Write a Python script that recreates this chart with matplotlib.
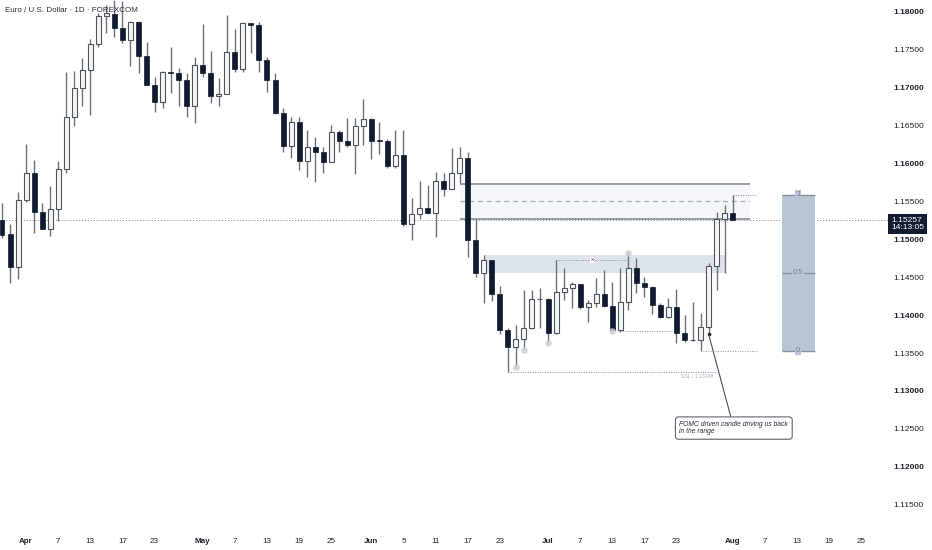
import numpy as np
import matplotlib
matplotlib.use("Agg")
import matplotlib.pyplot as plt
from matplotlib.patches import Rectangle

plt.rcParams['font.family'] = ['Liberation Sans', 'DejaVu Sans']

# daily candles, EUR/USD
opens = [1.1526, 1.1507, 1.1464, 1.1552, 1.1588, 1.1536, 1.1514, 1.1540, 1.1593, 1.1661,
         1.1700, 1.1723, 1.1758, 1.1795, 1.1797, 1.1779, 1.1763, 1.1787, 1.1742, 1.1704,
         1.1681, 1.1721, 1.1719, 1.1710, 1.1676, 1.1730, 1.1720, 1.1689, 1.1692, 1.1747,
         1.1725, 1.1785, 1.1783, 1.1737, 1.1710, 1.1667, 1.1623, 1.1655, 1.1603, 1.1622,
         1.1615, 1.1602, 1.1642, 1.1630, 1.1625, 1.1650, 1.1659, 1.1631, 1.1630, 1.1597,
         1.1611, 1.1520, 1.1534, 1.1541, 1.1535, 1.1577, 1.1566, 1.1588, 1.1607, 1.1499,
         1.1456, 1.1473, 1.1428, 1.1380, 1.1358, 1.1369, 1.1383, 1.1421, 1.1421, 1.1377,
         1.1431, 1.1436, 1.1441, 1.1411, 1.1416, 1.1428, 1.1412, 1.1380, 1.1417, 1.1462,
         1.1442, 1.1437, 1.1413, 1.1398, 1.1411, 1.1377, 1.1367, 1.1367, 1.1384, 1.1465,
         1.1527, 1.1535]
highs = [1.1548, 1.1520, 1.1563, 1.1626, 1.1605, 1.1548, 1.1570, 1.1603, 1.1721, 1.1722,
         1.1739, 1.1764, 1.1799, 1.1809, 1.1816, 1.1814, 1.1788, 1.1788, 1.1760, 1.1714,
         1.1722, 1.1754, 1.1726, 1.1719, 1.1741, 1.1784, 1.1749, 1.1713, 1.1796, 1.1778,
         1.1787, 1.1786, 1.1787, 1.1741, 1.1720, 1.1673, 1.1661, 1.1661, 1.1644, 1.1635,
         1.1622, 1.1651, 1.1644, 1.1660, 1.1660, 1.1685, 1.1660, 1.1655, 1.1633, 1.1644,
         1.1644, 1.1555, 1.1577, 1.1572, 1.1589, 1.1588, 1.1621, 1.1622, 1.1615, 1.1527,
         1.1480, 1.1473, 1.1438, 1.1383, 1.1387, 1.1433, 1.1433, 1.1436, 1.1423, 1.1473,
         1.1462, 1.1444, 1.1441, 1.1420, 1.1449, 1.1460, 1.1444, 1.1462, 1.1482, 1.1475,
         1.1450, 1.1438, 1.1416, 1.1423, 1.1435, 1.1400, 1.1417, 1.1403, 1.1469, 1.1536,
         1.1545, 1.1559]
lows = [1.1502, 1.1443, 1.1448, 1.1549, 1.1508, 1.1514, 1.1504, 1.1524, 1.1588, 1.1650,
        1.1676, 1.1664, 1.1754, 1.1772, 1.1767, 1.1759, 1.1729, 1.1720, 1.1704, 1.1668,
        1.1673, 1.1693, 1.1676, 1.1661, 1.1654, 1.1714, 1.1680, 1.1676, 1.1692, 1.1721,
        1.1721, 1.1746, 1.1721, 1.1694, 1.1665, 1.1615, 1.1607, 1.1592, 1.1582, 1.1576,
        1.1588, 1.1602, 1.1615, 1.1622, 1.1586, 1.1625, 1.1606, 1.1613, 1.1594, 1.1594,
        1.1518, 1.1499, 1.1527, 1.1534, 1.1503, 1.1557, 1.1566, 1.1574, 1.1477, 1.1450,
        1.1416, 1.1419, 1.1375, 1.13248, 1.1332, 1.1354, 1.1382, 1.1383, 1.1363, 1.1375,
        1.1420, 1.1410, 1.1408, 1.1391, 1.1411, 1.1411, 1.1379, 1.1378, 1.1407, 1.1429,
        1.1424, 1.1402, 1.1396, 1.1396, 1.1363, 1.1365, 1.1366, 1.1353, 1.1375, 1.1433,
        1.1456, 1.1525]
closes = [1.1506, 1.1464, 1.1552, 1.1588, 1.1536, 1.1514, 1.1540, 1.1593, 1.1661, 1.1700,
          1.1723, 1.1758, 1.1795, 1.1799, 1.1779, 1.1763, 1.1787, 1.1742, 1.1704, 1.1681,
          1.1721, 1.1719, 1.1710, 1.1676, 1.1730, 1.1720, 1.1689, 1.1692, 1.1747, 1.1725,
          1.1785, 1.1783, 1.1737, 1.1710, 1.1667, 1.1623, 1.1655, 1.1603, 1.1622, 1.1615,
          1.1602, 1.1642, 1.1630, 1.1625, 1.1650, 1.1659, 1.1630, 1.1630, 1.1597, 1.1611,
          1.1520, 1.1534, 1.1541, 1.1535, 1.1577, 1.1566, 1.1588, 1.1607, 1.1499, 1.1456,
          1.1473, 1.1428, 1.1380, 1.1358, 1.1369, 1.1383, 1.1421, 1.1422, 1.1377, 1.1431,
          1.1436, 1.1441, 1.1411, 1.1416, 1.1428, 1.1412, 1.1380, 1.1417, 1.1462, 1.1442,
          1.1437, 1.1413, 1.1398, 1.1411, 1.1377, 1.1367, 1.1367, 1.1384, 1.1465, 1.1527,
          1.1535, 1.15257]

tick_pos = [3, 7, 11, 15, 19, 25, 29, 33, 37, 41, 46, 50, 54, 58, 62,
            68, 72, 76, 80, 84, 91, 95, 99, 103, 107]
tick_lab = ['Apr', '7', '13', '17', '23', 'May', '7', '13', '19', '25',
            'Jun', '5', '11', '17', '23', 'Jul', '7', '13', '17', '23',
            'Aug', '7', '13', '19', '25']
months = ['Apr', 'May', 'Jun', 'Jul', 'Aug']
price_ticks = [1.180, 1.175, 1.170, 1.165, 1.160, 1.155, 1.150, 1.145,
               1.140, 1.135, 1.130, 1.125, 1.120, 1.115]

# levels drawn on the chart
supply_top, supply_bot = 1.15737, 1.15269
range_top, range_bot = 1.14794, 1.14560
ssl = 1.13248
swept_lows = [64, 65, 68, 76]
swept_high = 78

navy = '#0d1a30'
wick = '#6a717c'

fig = plt.figure(figsize=(9.32, 5.5), dpi=100)
ax = fig.add_axes([0, 22 / 550, 870 / 932, 528 / 550])
ax.set_xlim(-0.25, 108.1)
ax.set_ylim(1.111924, 1.181583)
for s in ax.spines.values():
    s.set_visible(False)

x = np.arange(len(opens))
o = np.array(opens)
c = np.array(closes)
up = c >= o

# zones
ax.add_patch(Rectangle((57, supply_bot), 93.2 - 57, supply_top - supply_bot,
                       fc='#f4f6f9', ec='none', zorder=1))
ax.hlines([supply_top, supply_bot], 57, 93.2, color='#8f969f', lw=1.3, zorder=2)
ax.hlines((supply_top + supply_bot) / 2, 57, 93.2, color='#a9b0b8', lw=0.9,
          linestyles=(0, (4, 3)), zorder=2)
ax.add_patch(Rectangle((60, range_bot), 30, range_top - range_bot,
                       fc='#dde3ea', ec='none', zorder=1))

# current price line, runs up to the price label
ax.axhline(closes[-1], xmax=1.021, color='#7d8591', lw=0.7, ls=(0, (1, 2)),
           zorder=2, clip_on=False)

# candles
ax.vlines(x, lows, highs, color=wick, lw=1.0, zorder=3)
body_lo = np.minimum(o, c)
body_h = np.maximum(np.abs(c - o), 0.00005)
ax.bar(x[up], body_h[up], bottom=body_lo[up], width=0.62, color='#f4f5f7',
       edgecolor='#4c5462', lw=0.8, zorder=4)
ax.bar(x[~up], body_h[~up], bottom=body_lo[~up], width=0.62, color=navy,
       edgecolor=navy, lw=0.5, zorder=4)

# liquidity marks
ax.scatter(swept_lows, [lows[i] for i in swept_lows], s=22, color='#c8d0da',
           alpha=0.85, zorder=5, lw=0)
ax.scatter([swept_high], [highs[swept_high]], s=22, color='#c8d0da',
           alpha=0.85, zorder=5, lw=0)
dot = dict(color='#8a919b', lw=0.7, ls=(0, (1, 1.5)), zorder=2)
ax.hlines(ssl, 63, 89, **dot)
ax.text(88.6, ssl - 0.0002, 'SSL - 1.13248', fontsize=3.7, color='#9fb0c4',
        ha='right', va='top')
ax.hlines(highs[69], 69, 77.8, **dot)
ax.text(73.5, highs[69], 'x', fontsize=4.6, color='#4a505a', ha='center',
        va='center', bbox=dict(fc='white', ec='none', pad=0.3), zorder=3)
ax.hlines(lows[76], 77, 83.6, **dot)
ax.hlines(lows[87], 87.3, 94, **dot)
ax.hlines(highs[91], 91, 94, **dot)

# fib box
fib_l, fib_r = 97.1, 101.2
fib_fc = '#b7c5d5'
ax.add_patch(Rectangle((fib_l, lows[87]), fib_r - fib_l, highs[91] - lows[87],
                       fc=fib_fc, ec='none', zorder=2))
for lvl, lab in [(1.0, '1'), (0.5, '0.5'), (0.0, '0')]:
    yv = lows[87] + lvl * (highs[91] - lows[87])
    ax.hlines(yv, fib_l, fib_r, color='#8593a3', lw=1.0, zorder=3)
    ax.text((fib_l + fib_r) / 2, yv, lab, fontsize=5.3, color='#768292',
            ha='center', va='center', zorder=4,
            bbox=dict(fc=fib_fc, ec='none', pad=0.8))

# callout
ax.plot(88, lows[88], 'o', ms=1.6, color='#1e222d', zorder=6)
ax.annotate('FOMC driven candle driving us back\nin the range',
            xy=(88, lows[88]), xytext=(-21, -62.5), textcoords='offset points',
            ha='left', va='top', fontsize=4.85, style='italic', color='#2a2e39',
            linespacing=1.05,
            bbox=dict(boxstyle='round,pad=0.6,rounding_size=0.45', fc='white',
                      ec='#5f6570', lw=0.8),
            arrowprops=dict(arrowstyle='-', color='#4a505a', lw=0.8,
                            shrinkA=0, shrinkB=0),
            zorder=7)

# axes
ax.set_xticks(tick_pos)
ax.set_xticklabels(tick_lab)
ax.tick_params(axis='x', length=0, pad=7, labelsize=5.8, labelcolor='#1e222d')
for t in ax.get_xticklabels():
    if t.get_text() in months:
        t.set_fontweight('bold')
ax.yaxis.tick_right()
ax.set_yticks(price_ticks)
ax.set_yticklabels([f'{p:.5f}' for p in price_ticks])
ax.tick_params(axis='y', length=0, pad=17, labelsize=6.0, labelcolor='#1e222d')
for t, p in zip(ax.get_yticklabels(), price_ticks):
    if round(p * 1000) % 10 == 0:
        t.set_fontweight('bold')

ax.annotate(f'{closes[-1]:.5f}\n14:13:05', xy=(891 / 932, closes[-1]),
            xycoords=('figure fraction', 'data'), xytext=(0, 2.2),
            textcoords='offset points', ha='left', va='top', color='white',
            fontsize=6.0, linespacing=1.0, annotation_clip=False,
            bbox=dict(boxstyle='square,pad=0.35', fc='#131d31', ec='none'))

fig.text(5 / 932, 1 - 10 / 550, 'Euro / U.S. Dollar · 1D · FOREXCOM',
         fontsize=5.8, color='#2a2e39', va='center', ha='left')

fig.savefig('out.png', dpi=100)
